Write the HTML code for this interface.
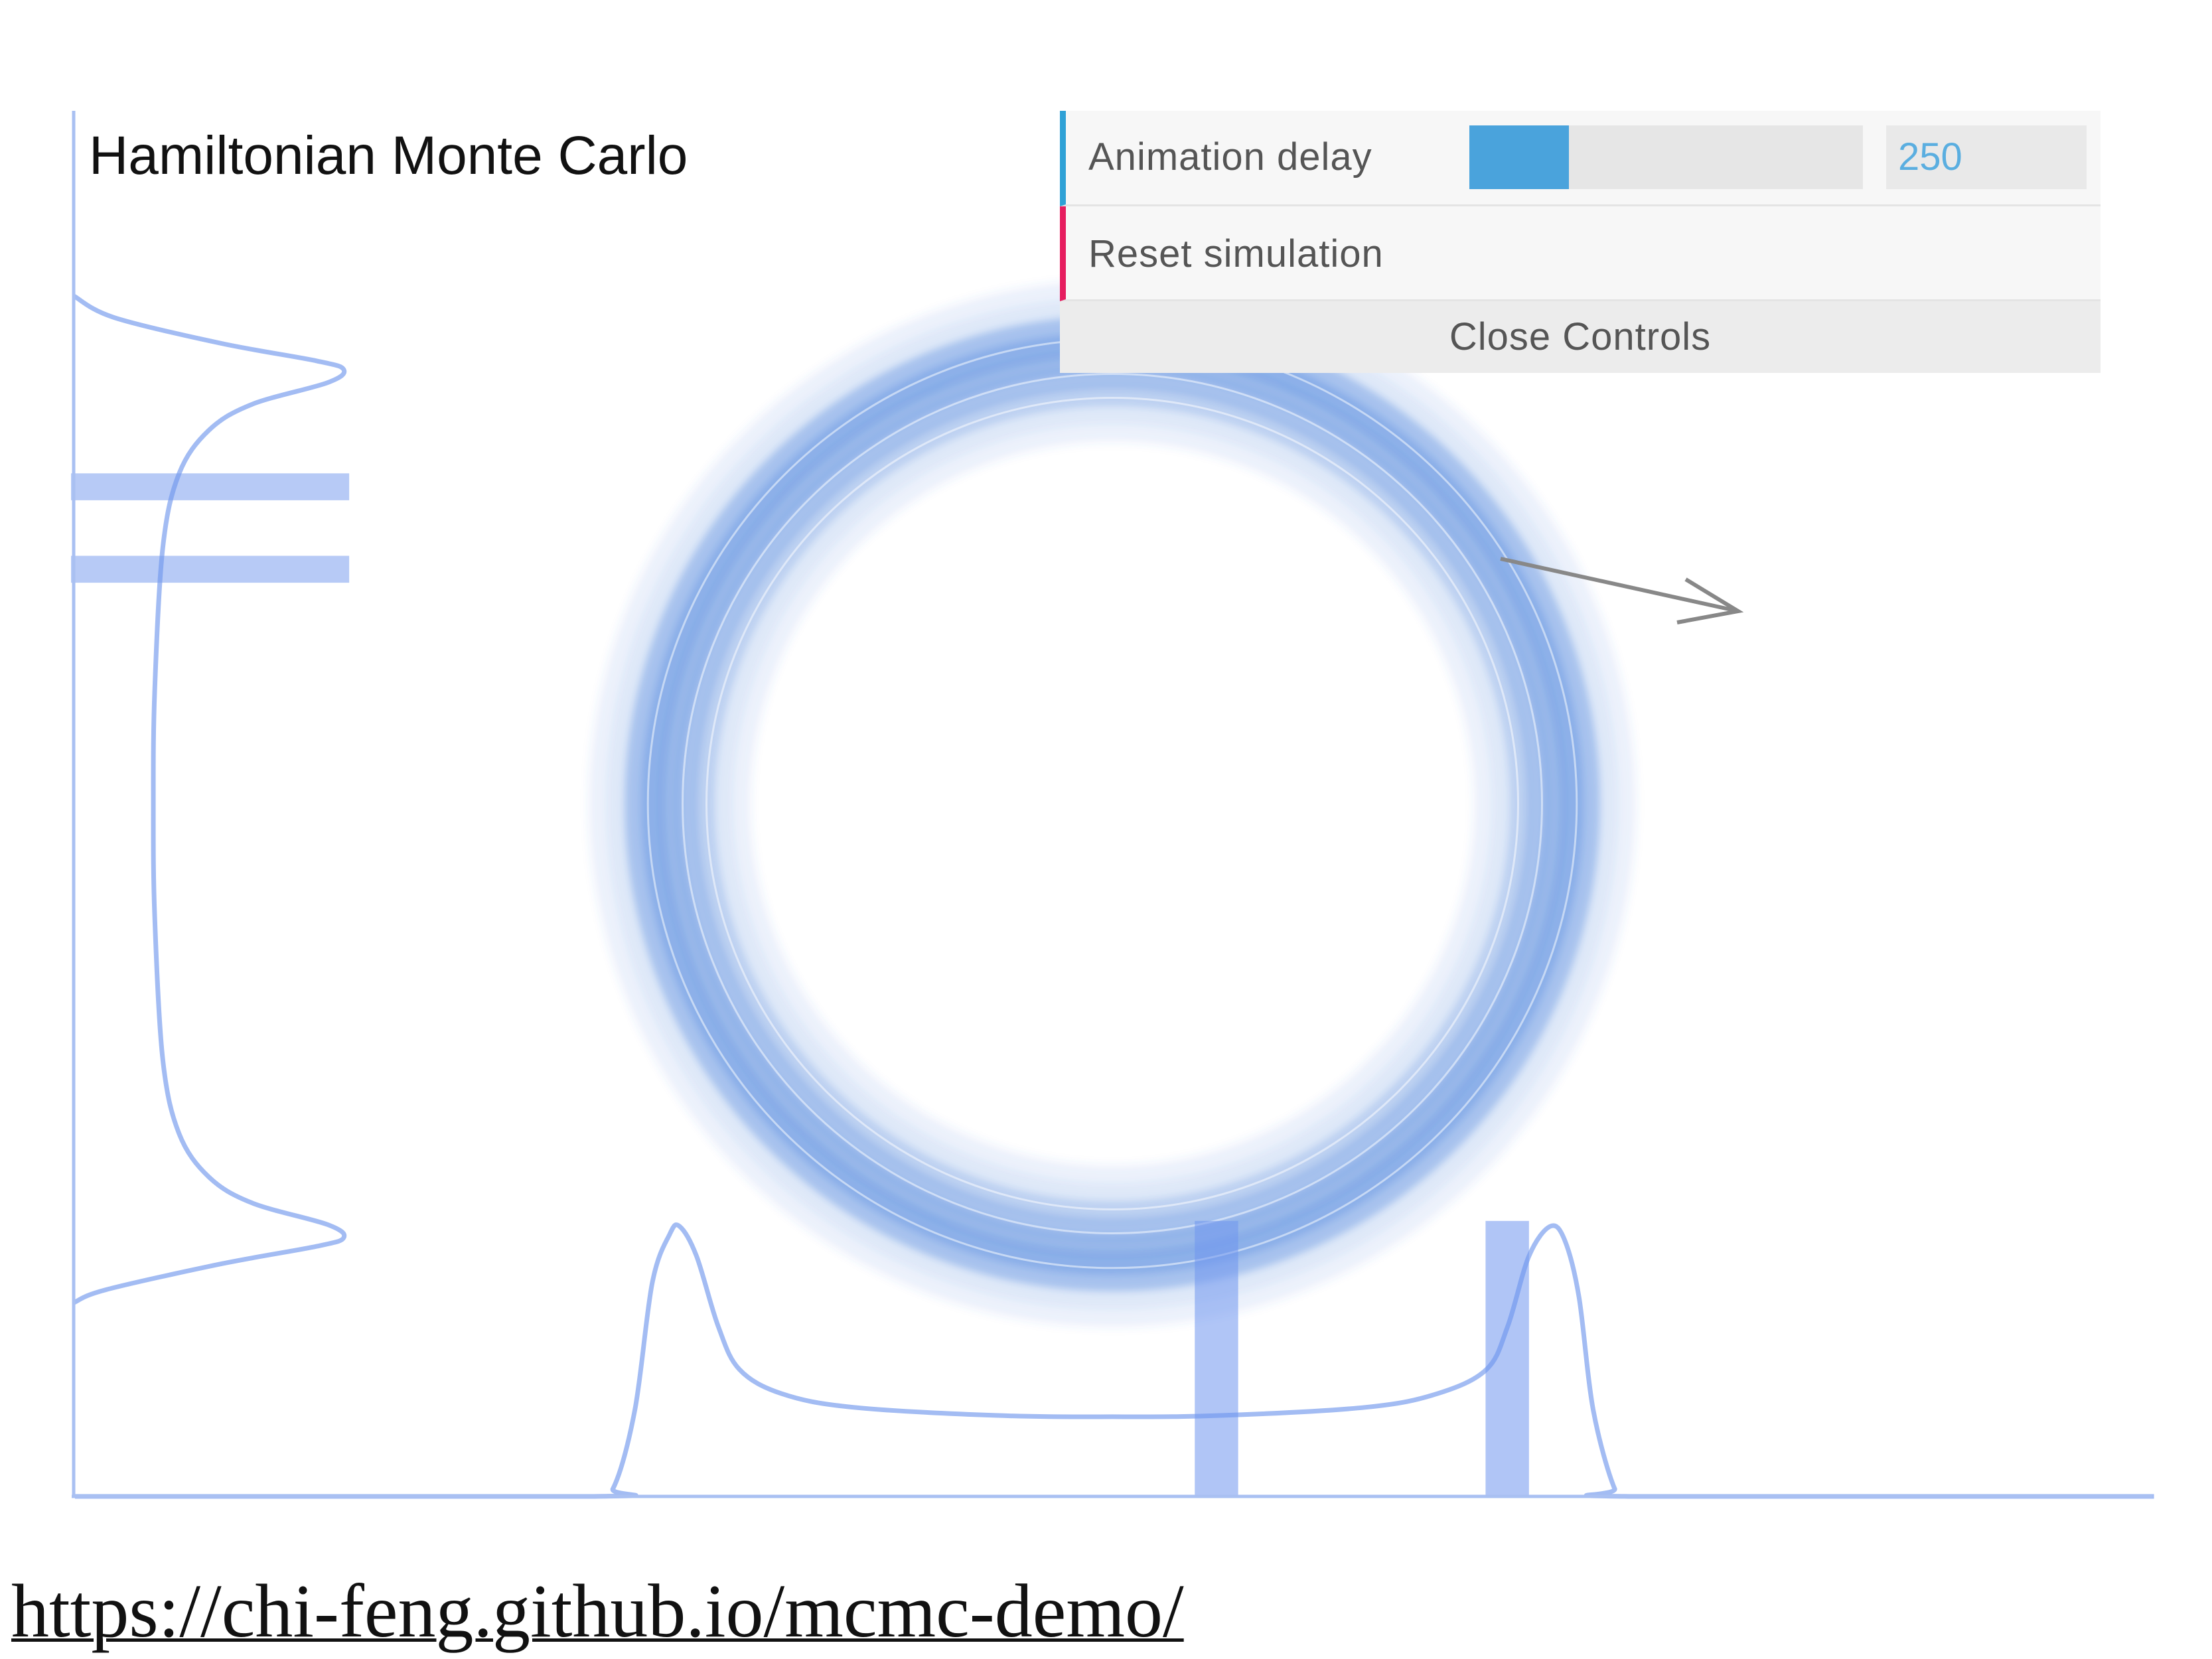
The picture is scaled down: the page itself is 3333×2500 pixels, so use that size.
<!DOCTYPE html>
<html><head><meta charset="utf-8"><style>
html,body{margin:0;padding:0;background:#fff;}
body{width:3333px;height:2500px;position:relative;overflow:hidden;font-family:"Liberation Sans",sans-serif;}
#title{position:absolute;left:134px;top:188px;font-size:82px;color:#111;}
#panel{position:absolute;left:1597px;top:167px;width:1568px;height:395px;background:#f7f7f7;}
.row{position:absolute;left:0;width:1568px;border-bottom:3px solid #e4e4e4;box-sizing:border-box;}
.lbl{position:absolute;left:34px;font-size:58px;color:#555;letter-spacing:1px;}
#url{position:absolute;left:17px;top:2362px;font-family:"Liberation Serif",serif;font-size:114px;color:#111;text-decoration:underline;text-decoration-thickness:5px;}
</style></head><body>
<svg id="chart" width="3333" height="2500" style="position:absolute;left:0;top:0">
<defs><filter id="blur" x="-20%" y="-20%" width="140%" height="140%"><feGaussianBlur stdDeviation="6"/></filter></defs>
<g id="ring" filter="url(#blur)"></g>
<g id="marg"></g>
<line x1="111" y1="167" x2="111" y2="2255" stroke="#a9c0f2" stroke-width="5"/>
<line x1="108" y1="2255" x2="3243" y2="2255" stroke="#a9c0f2" stroke-width="5"/>
<g stroke="#888" stroke-width="6" fill="none">
<line x1="2261" y1="842" x2="2619" y2="921"/>
<polyline points="2540,873 2619,921 2527,938"/>
</g>
</svg>
<div id="title">Hamiltonian Monte Carlo</div>
<div id="panel">
 <div class="row" style="top:0;height:144px;border-left:9px solid #2fa1d6">
  <div class="lbl" style="top:36px">Animation delay</div>
  <div style="position:absolute;left:608px;top:22px;width:593px;height:96px;background:#e6e6e6">
   <div style="width:150px;height:96px;background:#4aa3dc"></div></div>
  <div style="position:absolute;left:1236px;top:22px;width:302px;height:96px;background:#e9e9e9;color:#5aaee0;font-size:58px;line-height:96px;padding-left:18px;box-sizing:border-box">250</div>
 </div>
 <div class="row" style="top:144px;height:143px;border-left:9px solid #e61d5f">
  <div class="lbl" style="top:38px">Reset simulation</div>
 </div>
 <div style="position:absolute;top:287px;left:0;width:1568px;height:108px;background:#ececec;text-align:center;font-size:58px;line-height:108px;color:#555;letter-spacing:1px">Close Controls</div>
</div>
<div id="url">https://chi-feng.github.io/mcmc-demo/</div>
<script>
// bottom marginal density (x in data units, density relative to peak)
const xPts=[-2.39,-1.2,-1.15,-1.10,-1.06,-1.02,-0.997,-0.958,-0.908,-0.859,-0.761,-0.597,-0.269,0,0.256,0.584,0.748,0.862,0.911,0.960,1.009,1.042,1.075,1.108,1.157,1.190,2.40];
const xDens=[0,0,0.03,0.32,0.79,0.97,1.0,0.89,0.63,0.47,0.38,0.33,0.30,0.295,0.30,0.33,0.38,0.47,0.63,0.89,1.0,0.95,0.74,0.32,0.03,0,0];
// left marginal density (y in data units)
const yPts=[-1.15,-1.12,-1.06,-1.02,-1.0,-0.97,-0.92,-0.86,-0.76,-0.59,-0.26,0,0.26,0.59,0.76,0.86,0.92,0.97,1.0,1.02,1.06,1.12,1.17];
const yDens=[0,0.12,0.55,0.9,1.0,0.94,0.66,0.5,0.39,0.33,0.30,0.295,0.30,0.33,0.39,0.5,0.66,0.94,1.0,0.9,0.55,0.15,0];
// sample bars
const xBars=[0.24,0.91];
const yBars=[0.73,0.54];
const ringR=[0.86,0.90,0.94,0.98,1.02,1.06,1.10,1.14,1.18];
const ringOp=[0.05,0.12,0.30,0.42,0.50,0.55,0.42,0.12,0.05];

const CX=1676,CY=1211,U=654,BASE=2255,AX=111,DH=407;
const sx=v=>CX+v*U, sy=v=>CY-v*U, dx=d=>AX+d*DH, dy=d=>BASE-d*DH;
const NS='http://www.w3.org/2000/svg';
const ring=document.getElementById('ring'), marg=document.getElementById('marg');
function mk(t,a,p){const e=document.createElementNS(NS,t);for(const k in a)e.setAttribute(k,a[k]);p.appendChild(e);return e;}
function smooth(P){const cx=v=>Math.max(v,AX),cy=v=>Math.min(v,BASE);let d='M'+P[0][0]+','+P[0][1];for(let i=0;i<P.length-1;i++){const p0=P[Math.max(0,i-1)],p1=P[i],p2=P[i+1],p3=P[Math.min(P.length-1,i+2)];d+=' C'+cx(p1[0]+(p2[0]-p0[0])/6)+','+cy(p1[1]+(p2[1]-p0[1])/6)+' '+cx(p2[0]-(p3[0]-p1[0])/6)+','+cy(p2[1]-(p3[1]-p1[1])/6)+' '+p2[0]+','+p2[1];}return d;}
mk('circle',{cx:CX,cy:CY,r:1.02*U,fill:'none',stroke:'#3b78d8','stroke-width':0.38*U,'stroke-opacity':0.05},ring);
ringR.forEach((r,i)=>{
 const c=mk('circle',{cx:CX,cy:CY,r:r*U,fill:'none',stroke:'#3b78d8','stroke-width':0.045*U,'stroke-opacity':ringOp[i]},ring);
 
 
});
const wg=document.getElementById('chart').insertBefore(document.createElementNS(NS,'g'),marg);
[0.935,0.99,1.07].forEach(r=>{mk('circle',{cx:CX,cy:CY,r:r*U,fill:'none',stroke:'#fff','stroke-width':3,'stroke-opacity':0.5},wg);});
const bc=mk('path',{d:smooth(xPts.map((x,i)=>[sx(x),dy(xDens[i])])),fill:'none',stroke:'#a3bcf3','stroke-width':7},marg);


const lc=mk('path',{d:smooth(yPts.map((y,i)=>[dx(yDens[i]),sy(y)])),fill:'none',stroke:'#a3bcf3','stroke-width':7},marg);


xBars.forEach(x=>{
 const b=mk('rect',{x:sx(x)-0.05*U,y:dy(1.02),width:0.1*U,height:BASE-dy(1.02),fill:'#6f95ee','fill-opacity':0.55},marg);
 
 
});
yBars.forEach(y=>{
 const b=mk('rect',{x:AX-4,y:sy(y)-0.031*U,width:dx(1.02)-AX+4,height:0.062*U,fill:'#6f95ee','fill-opacity':0.5},marg);
 
 
});
</script>
</body></html>
